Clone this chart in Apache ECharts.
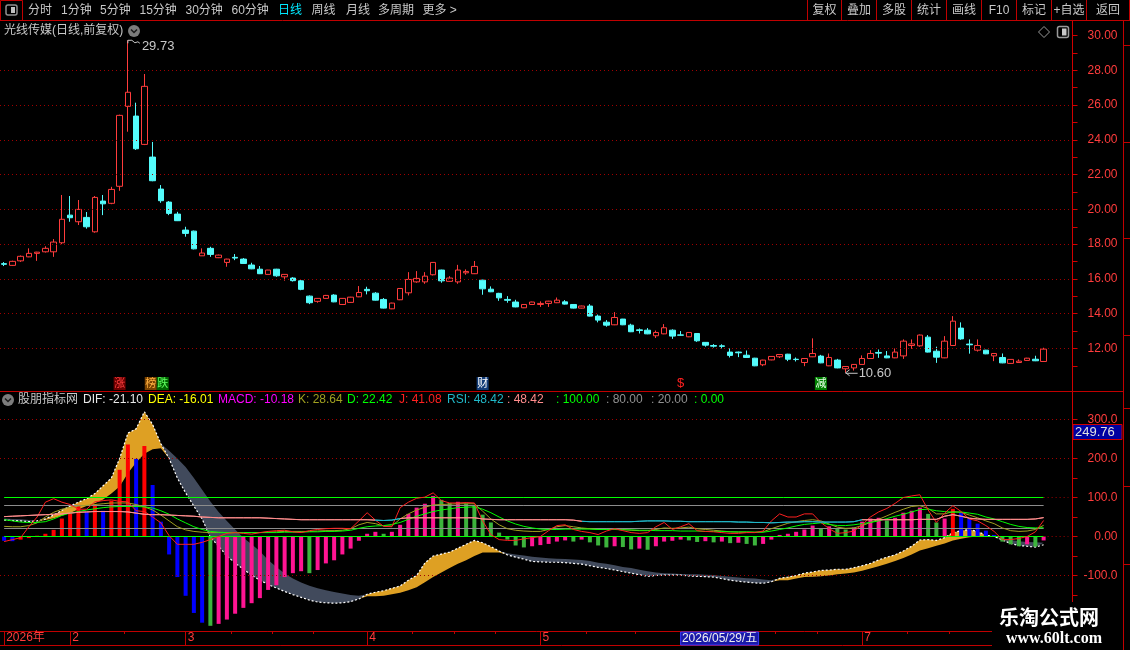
<!DOCTYPE html>
<html><head><meta charset="utf-8">
<script src="https://cdn.jsdelivr.net/npm/echarts@6/dist/echarts.min.js"></script>
<style>html,body{margin:0;padding:0;background:#000;overflow:hidden}#c{width:1130px;height:650px}</style>
</head><body><div id="c"></div>
<script>
// ---------- data ----------
const monthDays = [8,14,22,21,18,21,23];
const tickLabels = ['2026年','2','3','4','5','6','7'];
const weekIdx = [15,28,33,38,50,55,60,71,77,87,94,99,110,115];
// [open, close, low, high]
const ohlc = [
[16.88,16.84,16.74,16.97],[16.78,17.01,16.75,17.05],[17.04,17.30,16.98,17.35],[17.27,17.47,17.25,17.76],[17.47,17.54,17.04,17.56],
[17.56,17.76,17.52,17.88],[17.56,18.12,17.27,18.29],[18.08,19.43,18.00,20.83],[19.67,19.52,19.29,20.77],[19.29,20.00,19.10,20.54],
[19.54,19.00,18.89,19.85],[18.71,20.69,18.66,20.77],[20.48,20.32,19.67,20.83],[20.35,21.15,20.30,21.30],[21.33,25.41,21.07,25.45],
[25.93,26.74,24.47,29.73],[25.37,23.49,23.42,26.14],[23.74,27.08,23.70,27.79],[23.01,21.65,21.62,23.88],[21.17,20.50,20.38,21.40],
[20.42,19.77,19.67,20.48],[19.73,19.35,19.33,19.86],[18.81,18.62,18.43,19.00],[18.75,17.73,17.70,18.78],[17.33,17.49,17.33,17.76],
[17.76,17.41,17.27,17.85],[17.22,17.37,17.20,17.40],[16.95,17.14,16.70,17.16],[17.24,17.20,17.08,17.43],[17.14,16.89,16.87,17.20],
[16.80,16.58,16.56,16.93],[16.56,16.30,16.28,16.74],[16.26,16.51,16.25,16.52],[16.56,16.18,16.12,16.58],[16.12,16.26,15.90,16.28],
[16.05,15.90,15.85,16.10],[15.89,15.40,15.35,15.95],[15.01,14.63,14.55,15.05],[14.71,14.88,14.63,14.90],[14.88,15.05,14.86,15.08],
[15.07,14.68,14.66,15.12],[14.53,14.88,14.50,14.90],[14.65,14.95,14.63,14.97],[14.97,15.22,14.95,15.59],[15.40,15.32,15.11,15.55],
[15.18,14.78,14.76,15.24],[14.82,14.32,14.30,14.90],[14.28,14.61,14.26,14.63],[14.80,15.45,14.78,15.47],[15.20,15.97,15.05,16.39],
[15.83,16.03,15.78,16.45],[15.83,16.16,15.72,16.39],[16.24,16.95,16.20,16.97],[16.51,15.89,15.78,16.53],[15.86,16.05,15.84,16.16],
[15.83,16.51,15.72,16.81],[16.35,16.43,16.24,16.55],[16.30,16.72,16.28,17.03],[15.93,15.43,15.09,15.95],[15.41,15.26,15.24,15.57],
[15.17,14.91,14.74,15.20],[14.82,14.77,14.63,15.01],[14.67,14.39,14.37,14.80],[14.34,14.53,14.32,14.55],[14.53,14.67,14.50,14.69],
[14.53,14.59,14.39,14.71],[14.59,14.72,14.39,14.74],[14.63,14.78,14.61,14.93],[14.68,14.55,14.53,14.78],[14.53,14.32,14.30,14.55],
[14.32,14.44,14.30,14.46],[14.44,13.86,13.84,14.55],[13.86,13.63,13.50,13.95],[13.51,13.34,13.25,13.63],[13.36,13.78,13.34,14.09],
[13.69,13.36,13.34,13.70],[13.34,12.96,12.94,13.42],[13.07,13.03,12.86,13.15],[13.05,12.84,12.82,13.17],[12.73,12.92,12.60,13.03],
[12.84,13.19,12.82,13.40],[13.05,12.71,12.55,13.10],[12.78,12.76,12.74,13.00],[12.67,12.92,12.65,12.94],[12.86,12.44,12.38,12.88],
[12.35,12.19,12.10,12.37],[12.17,12.13,12.05,12.25],[12.15,12.12,12.00,12.24],[11.79,11.60,11.48,12.00],[11.79,11.75,11.50,11.82],
[11.61,11.48,11.45,11.88],[11.44,11.00,10.98,11.46],[11.06,11.33,10.98,11.35],[11.34,11.54,11.32,11.56],[11.52,11.65,11.45,11.67],
[11.67,11.38,11.27,11.69],[11.38,11.36,11.25,11.48],[11.19,11.42,10.98,11.44],[11.52,11.71,11.50,12.58],[11.56,11.17,11.15,11.63],
[11.00,11.48,10.98,11.71],[11.33,10.88,10.86,11.40],[10.83,10.96,10.60,10.98],[10.88,11.08,10.73,11.10],[11.08,11.42,11.06,11.60],
[11.42,11.71,11.40,11.90],[11.77,11.73,11.46,11.94],[11.57,11.46,11.44,11.85],[11.46,11.79,11.44,12.00],[11.57,12.42,11.40,12.52],
[12.17,12.26,11.98,12.52],[12.15,12.77,12.10,12.80],[12.65,11.79,11.77,12.77],[11.84,11.50,11.17,12.10],[11.46,12.42,11.44,12.71],
[12.17,13.57,12.15,13.86],[13.17,12.55,12.50,13.50],[12.25,12.21,11.70,12.52],[11.90,12.17,11.82,12.52],[11.90,11.69,11.67,11.92],
[11.57,11.71,11.27,11.73],[11.48,11.17,11.15,11.71],[11.14,11.37,11.12,11.38],[11.19,11.27,11.17,11.37],[11.31,11.44,11.29,11.46],
[11.38,11.29,11.27,11.58],[11.25,11.96,11.23,12.04]
];
const dif = [42,41,40,38,40,45,55,67,78,88,
 97,110,130,150,200,265,276,320,287,238,
 200,150,112,78,45,-2,-25,-50,-68,-84,
 -99,-112,-123,-132,-141,-149,-156,-163,-168,-170,
 -171,-170,-167,-160,-148,-143,-139,-133,-127,-112,
 -100,-68,-50,-45,-40,-30,-20,-10,-16,-26,
 -37,-47,-53,-58,-64,-65,-66,-66,-67,-69,
 -71,-75,-79,-82,-86,-90,-94,-98,-102,-100,
 -99,-99,-99,-101,-102,-103,-104,-108,-112,-115,
 -117,-119,-120,-116,-107,-104,-100,-94,-91,-87,
 -86,-84,-84,-80,-75,-69,-60,-53,-47,-37,
 -25,-9,-8,-10,-3,10,15,18,13,3,
 0.5,-9,-18,-23,-25,-27,-21.10];
const dea = [46,45,44,42,40,42,47,53,60,70,
 78,85,95,110,128,162,190,212,224,226,
 220,200,178,150,120,90,63,40,18,-3,
 -20,-38,-60,-78,-95,-108,-118,-126,-133,-138,
 -142,-146,-150,-152,-153,-153,-152,-148,-144,-138,
 -130,-117,-104,-92,-81,-70,-61,-50,-41,-41,
 -41,-43,-46,-49,-52,-54,-56,-57,-58,-59,
 -60,-63,-67,-70,-74,-78,-81,-85,-89,-92,
 -94,-95,-96,-97,-97,-98,-99,-101,-103,-105,
 -107,-108,-110,-112,-112,-112,-108,-104,-103,-102,
 -100,-97,-95,-92,-88,-82,-76,-70,-63,-55,
 -46,-36,-30,-24,-18,-10,-6,-2,0,0,
 -0.5,-5,-9,-12,-14,-15,-16.01];
const macd = [-11,-12,-8,-4,2,7,17,46,58,81,
 63,83,66,92,171,236,199,232,132,38,
 -46,-104,-152,-196,-221,-229,-224,-213,-198,-183,
 -171,-158,-137,-125,-104,-94,-89,-94,-86,-69,
 -61,-46,-31,-11,7,12,7,12,30,58,
 74,84,104,94,86,89,84,81,56,36,
 10,-8,-23,-28,-25,-22,-19,-13,-10,-13,
 -8,-15,-23,-28,-25,-27,-33,-31,-34,-25,
 -13,-11,-8,-10,-14,-12,-15,-13,-17,-16,
 -19,-23,-19,-8,4,7,12,18,28,20,
 26,20,18,23,38,46,48,41,48,61,
 66,74,58,36,46,71,61,46,33,15,
 4,-13,-20,-25,-20,-26,-10.18];
const kLine = [26,25,25,28,35,50,62,70,75,78,
 80,82,84,86,86,86,82,76,68,55,
 40,25,17,13,11,10,10,10,10,10,
 10,10,11,12,13,13,13,13,14,15,
 15,16,20,30,36,33,27,27,45,58,
 68,75,81,82,83,84,84,84,65,45,
 30,20,16,14,13,13,18,25,28,25,
 22,20,18,18,18,18,16,15,15,18,
 22,21,22,24,20,18,16,14,12,11,
 11,11,12,20,27,34,38,41,43,40,
 32,24,21,22,28,36,44,53,62,70,
 77,79,72,58,58,64,62,55,48,40,
 33,22,15,13,14,18,28.64];
const dLine = [43,40,37,36,36,38,45,54,60,64,
 68,71,74,76,77,77,77,76,73,66,
 57,45,35,25,18,13,11,10,10,10,
 10,10,10,10,11,11,11,12,12,13,
 13,14,16,21,25,27,28,31,36,44,
 52,58,64,68,71,74,75,76,70,61,
 50,40,32,26,22,19,18,18,19,19,
 19,19,18,18,18,17,17,16,16,15,
 15,15,14,14,14,13,13,13,12,12,
 12,11,11,14,18,22,27,31,33,35,
 31,28,28,30,33,36,40,46,52,57,
 63,69,70,66,64,62,63,60,57,50,
 45,38,31,26,23,22,22.42];
const jLine = [-13,-8,-3,25,50,88,97,88,82,70,
 70,89,92,94,90,89,66,64,50,35,
 2,-20,-20,-20,-15,-8,0,8,10,8,
 6,10,13,15,16,12,10,15,18,20,
 21,21,20,40,61,42,26,25,74,88,
 98,101,112,92,86,86,87,86,40,5,
 -8,-10,-10,-6,-3,0,15,28,30,18,
 13,10,5,14,20,15,10,8,10,25,
 36,18,25,33,15,13,12,10,8,8,
 10,10,14,40,58,50,50,58,58,36,
 20,8,10,14,30,50,63,72,85,100,
 104,107,68,36,60,79,64,45,40,28,
 13,-8,-8,-5,0,12,41.08];
const rsi = [51,52,53,54,55,56,57,58,60,62,
 63,64,64,64,64,63,60,57,56,56,
 55,54,53,52,50,49,48,48,48,48,
 48,48,47,46,45,44,43,43,43,43,
 43,43,43,43,43,42,41,42,46,48,
 48,48,48,48,48,48,48,48,45,44,
 43,43,43,43,43,43,43,43,43,42,
 39,38,38,38,38,38,38,39,40,40,
 40,39,39,38,38,38,38,38,38,37,
 37,36,36,35,36,37,37,38,38,37,
 37,37,37,38,43,43,43,43,43,43,
 43,44,44,44,52,56,52,47,45,44,
 44,44,44,44,44,45,48.42];
const priceLabels = [12,14,16,18,20,22,24,26,28,30];
const priceTicks = [11,12,13,14,15,16,17,18,19,20,21,22,23,24,25,26,27,28,29,30];
const priceGrid = [12,14,16,18,20,22,24,26,28];
const indLabels = [-100,0,100,200,300];
const indTicks = [-200,-150,-100,-50,0,50,100,150,200,250,300];
const refLines = [100,80,20,0];
const refColors = {100:'#00ff00', 80:'#8c8c8c', 20:'#8c8c8c', 0:'#00ff00'};
const events = [{i:14,t:'涨'},{i:18.5,t:'榜跌'},{i:58,t:'财'},{i:82,t:'$'},{i:99,t:'减'}];
const highIdx = 15, highVal = 29.73, lowIdx = 102, lowVal = 10.60;
const cursorIdx = 82, cursorDate = '2026/05/29/五', cursorVal = '249.76';

// ---------- derived ----------
const cats = [];
monthDays.forEach((n,m)=>{for(let d=0;d<n;d++)cats.push((m+1)+'-'+(d+1));});
const N = cats.length;
cats.push('p1','p2','p3');
const tickIdx = []; {let s=0; monthDays.forEach(n=>{tickIdx.push(s); s+=n;});}
const bandBase = dif.map((v,i)=>Math.min(v,dea[i]));
const bandUp = dif.map((v,i)=>Math.max(0,v-dea[i]));
const bandDn = dif.map((v,i)=>Math.max(0,dea[i]-v));

const F = '"Liberation Sans","Noto Sans CJK SC",sans-serif';
const RED = '#c00000';
const chart = echarts.init(document.getElementById('c'), null, {renderer:'canvas'});

const gridLine = {color:'#a00000', type:[1,3], width:1};
const indGridData = indLabels.map(v=> refLines.includes(v)
  ? [{coord:[cats[N-1],v]},{coord:[cats[cats.length-1],v]}]
  : {yAxis:v});
const option = {
  backgroundColor:'#000',
  animation:false,
  grid:[{left:0, width:1072.5, top:30, height:360},{left:0, width:1072.5, top:408, height:223}],
  xAxis:[
    {type:'category', gridIndex:0, data:cats, boundaryGap:true, axisLine:{show:false}, axisTick:{show:false}, axisLabel:{show:false}, splitLine:{show:false}},
    {type:'category', gridIndex:1, data:cats, boundaryGap:true, position:'bottom',
      axisLine:{show:true, onZero:false, lineStyle:{color:RED, width:1}},
      axisTick:{show:true, alignWithLabel:true, length:14, interval:(i)=>tickIdx.includes(i), lineStyle:{color:RED}},
      axisLabel:{show:true, interval:(i)=>tickIdx.includes(i), formatter:(v,i)=>tickLabels[tickIdx.indexOf(i)]||'',
        color:'#ff3c3c', fontSize:12, fontFamily:F, align:'left', margin:1, padding:[0,0,0,2]},
      splitLine:{show:false}},
    {type:'category', gridIndex:1, data:cats, boundaryGap:true, position:'bottom',
      axisLine:{show:false, onZero:false}, axisLabel:{show:false}, splitLine:{show:false},
      axisTick:{show:true, length:3, interval:(i)=>weekIdx.includes(i), lineStyle:{color:RED}}}
  ],
  yAxis:[
    {type:'value', gridIndex:0, position:'right', min:9.609, max:30.322,
      axisLine:{show:true, lineStyle:{color:'#d00000'}},
      axisTick:{show:true, length:5, customValues:priceTicks, lineStyle:{color:'#d00000'}},
      axisLabel:{show:true, customValues:priceLabels, formatter:v=>v.toFixed(2), color:'#ff3c3c', fontSize:12, fontFamily:F, align:'right', margin:45},
      splitLine:{show:false}},
    {type:'value', gridIndex:1, position:'right', min:-242.3, max:329.5,
      axisLine:{show:true, lineStyle:{color:'#d00000'}},
      axisTick:{show:true, length:5, customValues:indTicks, lineStyle:{color:'#d00000'}},
      axisLabel:{show:true, customValues:indLabels, formatter:v=>v===0?'0.00':v.toFixed(1), color:'#ff3c3c', fontSize:12, fontFamily:F, align:'right', margin:45},
      splitLine:{show:false}}
  ],
  visualMap:[{type:'piecewise', show:false, seriesIndex:9, dimension:0,
    pieces:[{gte:-1,lt:44.5,color:'#ff8c8c'},{gte:44.5,lt:47.5,color:'#20b8c8'},{gte:47.5,lt:69.5,color:'#ff8c8c'},{gte:69.5,lt:103.5,color:'#20b8c8'},{gte:103.5,lte:200,color:'#ff8c8c'}]}],
  series:[
    {type:'candlestick', xAxisIndex:0, yAxisIndex:0, data:ohlc, barWidth:6, z:3,
      itemStyle:{color:'#000', color0:'#54fcfc', borderColor:'#ff3c3c', borderColor0:'#54fcfc', borderWidth:1},
      markLine:{silent:true, symbol:['none','none'], label:{show:false}, lineStyle:gridLine, data:priceGrid.map(v=>({yAxis:v}))}},
    {type:'line', name:'base', xAxisIndex:1, yAxisIndex:1, data:bandBase, stack:'band', stackStrategy:'all', symbol:'none', lineStyle:{opacity:0}, z:1,
      markLine:{silent:true, symbol:['none','none'], label:{show:false}, lineStyle:gridLine, data:indGridData}},
    {type:'line', name:'up', xAxisIndex:1, yAxisIndex:1, data:bandUp, stack:'band', stackStrategy:'all', symbol:'none', lineStyle:{opacity:0}, areaStyle:{color:'#dea023', opacity:1}, z:1},
    {type:'line', name:'dn', xAxisIndex:1, yAxisIndex:1, data:bandDn, stack:'band', stackStrategy:'all', symbol:'none', lineStyle:{opacity:0}, areaStyle:{color:'#414a5c', opacity:1}, z:1},
    {type:'line', name:'DIF', xAxisIndex:1, yAxisIndex:1, data:dif, symbol:'none', lineStyle:{color:'#ffffff', width:1.2, type:[2,2]}, z:1},
    {type:'bar', name:'MACD', xAxisIndex:1, yAxisIndex:1, data:macd, barWidth:4, z:2,
      itemStyle:{color:p=>{const i=p.dataIndex;const prev=i>0?macd[i-1]:Infinity;const up=macd[i]>=prev;return dif[i]>0?(up?'#ff0000':'#0000ff'):(up?'#ff1493':'#3cb43c');}}},
    {type:'line', name:'K', xAxisIndex:1, yAxisIndex:1, data:kLine, symbol:'none', lineStyle:{color:'#a0a020', width:1}, z:4},
    {type:'line', name:'D', xAxisIndex:1, yAxisIndex:1, data:dLine, symbol:'none', lineStyle:{color:'#00ff00', width:1}, z:4},
    {type:'line', name:'J', xAxisIndex:1, yAxisIndex:1, data:jLine, symbol:'none', lineStyle:{color:'#ff2020', width:1}, z:4},
    {type:'line', name:'RSI', xAxisIndex:1, yAxisIndex:1, data:rsi, symbol:'none', lineStyle:{width:1}, z:4}
  ]
};
chart.setOption(option);

// ---------- chrome (texts, frames) ----------
function T(x,y,text,fill,size,align,extra){
  return Object.assign({type:'text', x:x, y:y, z:50, silent:true,
    style:{text:text, fill:fill, font:(size||12)+'px '+F, textAlign:align||'left', textVerticalAlign:'middle', align:align||'left', verticalAlign:'middle'}}, extra||{});
}
function L(x1,y1,x2,y2,c,z){return {type:'line', z:z||50, silent:true, shape:{x1:x1,y1:y1,x2:x2,y2:y2}, style:{stroke:c||RED, lineWidth:1}};}
function R(x,y,w,h,fill,stroke,z){return {type:'rect', z:z||50, silent:true, shape:{x:x,y:y,width:w,height:h}, style:{fill:fill||'none', stroke:stroke||null, lineWidth:1}};}
function chevron(cx,cy){return [{type:'circle', z:50, shape:{cx:cx,cy:cy,r:6}, style:{fill:'#7c7c7c'}},
  {type:'polyline', z:51, shape:{points:[[cx-3,cy-1.5],[cx,cy+1.5],[cx+3,cy-1.5]]}, style:{stroke:'#1a1a1a', lineWidth:1.5, fill:'none'}}];}
const G = [];
const TXT = '#c8c8c8';
// toolbar
G.push(R(0.5,0.5,22,20,'none',RED));
G.push({type:'rect', z:50, shape:{x:6,y:5,width:11,height:10,r:2}, style:{fill:'none', stroke:'#909090', lineWidth:1.5}});
G.push(R(11,7,4,6,'#c0c0c0'));
[['分时',28],['1分钟',61],['5分钟',100],['15分钟',139.5],['30分钟',185.5],['60分钟',231.5],['日线',278],['周线',311.5],['月线',346],['多周期',378],['更多 >',422.5]]
  .forEach(([t,x])=>G.push(T(x,10.5,t,t==='日线'?'#00e8ff':TXT,12)));
const seps=[807,841,876,911,946,981,1016,1051,1086,1129];
seps.forEach(x=>G.push(L(x+0.5,0,x+0.5,20.5)));
['复权','叠加','多股','统计','画线','F10','标记','+自选','返回'].forEach((t,k)=>G.push(T((seps[k]+seps[k+1])/2+0.5,10.5,t,TXT,12,'center')));
G.push(L(0,20.5,1130,20.5));
// title
G.push(T(4,31,'光线传媒(日线,前复权)',TXT,12));
chevron(134,31).forEach(e=>G.push(e));
G.push({type:'polygon', z:50, shape:{points:[[1044,26.5],[1049.5,32],[1044,37.5],[1038.5,32]]}, style:{fill:'none', stroke:'#9a9a9a', lineWidth:1}});
G.push({type:'rect', z:50, shape:{x:1057.5,y:26.5,width:11,height:11,r:2}, style:{fill:'none', stroke:'#9a9a9a', lineWidth:1.5}});
G.push(R(1062,28.5,4.5,7,'#c8c8c8'));
// frame lines
G.push(L(1072.5,20.5,1072.5,631.5,'#d00000',49));
G.push(L(1123.5,20.5,1123.5,650,RED));
G.push(L(0,391.5,1123.5,391.5));
G.push(L(0,645.5,1123.5,645.5));
[45.5,142.5,238.5,335.5,408.5,486.5,564.5].forEach(y=>G.push(L(1123.5,y,1130,y)));
// reference lines of the indicator (placed through the indicator scale)
const toPx1 = (i,v)=>chart.convertToPixel({gridIndex:1},[i,v]);
refLines.forEach(v=>{
  const a = toPx1(0,v), b = toPx1(N-1,v);
  const y = Math.round(a[1]-0.5)+0.5;
  G.push(L(a[0],y,b[0],y,refColors[v],3));
});
// indicator header
chevron(8,400).forEach(e=>G.push(e));
G.push(T(18,400,'股朋指标网',TXT,12));
const last = a=>a[a.length-1].toFixed(2);
[[83,'DIF: '+last(dif),'#e8e8e8'],[148,'DEA: '+last(dea),'#ffff00'],[218,'MACD: '+last(macd),'#ff00ff'],
 [298,'K: '+last(kLine),'#a0a020'],[347,'D: '+last(dLine),'#00ff00'],[399,'J: '+last(jLine),'#ff2020'],
 [447,'RSI: '+last(rsi),'#20b8c8'],[507,': '+last(rsi),'#ff8c8c'],[556,': '+refLines[0].toFixed(2),'#00ff00'],
 [606,': '+refLines[1].toFixed(2),'#909090'],[651,': '+refLines[2].toFixed(2),'#909090'],[694,': '+refLines[3].toFixed(2),'#00ff00']]
 .forEach(([x,t,c])=>G.push(T(x,400,t,c,12)));
// cursor value box
G.push(R(1073,424.5,49,15,'#0000a0','#d00000',55));
G.push(T(1075,432,cursorVal,'#e0e0e0',13,'left',{z:56}));
// data-anchored annotations
const toPx = (i,v)=>chart.convertToPixel({gridIndex:0},[i,v]);
const hp = toPx(highIdx, highVal);
G.push({type:'polyline', z:50, shape:{points:[[hp[0],hp[1]+3],[hp[0],hp[1]],[hp[0]+4,hp[1]],[hp[0]+7,hp[1]+2.5],[hp[0]+10,hp[1]+1.5],[hp[0]+12,hp[1]+3]]}, style:{stroke:'#c8c8c8', lineWidth:1, fill:'none'}});
G.push(T(hp[0]+14,hp[1]+6,highVal.toFixed(2),'#c8c8c8',13));
const lp = toPx(lowIdx, lowVal);
G.push({type:'polyline', z:50, shape:{points:[[lp[0]+4,lp[1]-3],[lp[0],lp[1]],[lp[0]+4,lp[1]+3]]}, style:{stroke:'#c8c8c8', lineWidth:1, fill:'none'}});
G.push(L(lp[0],lp[1]+0.5,lp[0]+12,lp[1]+0.5,'#c8c8c8'));
G.push(T(lp[0]+13,lp[1]+1,lowVal.toFixed(2),'#c8c8c8',13));
const evStyle = {'涨':['#6a0000','#ff4040'],'榜':['#7a4200','#ffb040'],'跌':['#006400','#60ff60'],'财':['#123c78','#ffffff'],'$':[null,'#ff2020'],'减':['#008000','#e8ffe8']};
events.forEach(ev=>{
  const x0 = ev.i%1 ? (toPx(Math.floor(ev.i),10)[0]+toPx(Math.ceil(ev.i),10)[0])/2 : toPx(ev.i,10)[0];
  const chars = ev.t.split('');
  chars.forEach((ch,k)=>{
    const cx = x0 + (k - (chars.length-1)/2)*12;
    const st = evStyle[ch];
    if(st[0]) G.push(R(cx-6,377,12,13,st[0],null,50));
    G.push(T(cx,383.5,ch,st[1],ch==='$'?13:11,'center',{z:51}));
  });
});
const dx = toPx1(cursorIdx,0)[0];
G.push(R(dx,632,78,13,'#1a1aa8','#3a3aff',55));
G.push(T(dx+39,638.5,cursorDate,'#f0f0f0',12,'center',{z:56}));
// watermark
G.push(R(992,602,131,48,'#000',null,60));
G.push({type:'text', z:61, x:999, y:617, style:{text:'乐淘公式网', fill:'#ffffff', font:'bold 20px "Noto Sans CJK SC"', textVerticalAlign:'middle', verticalAlign:'middle'}});
G.push({type:'text', z:61, x:1006, y:639, style:{text:'www.60lt.com', fill:'#ffffff', font:'bold 16px "Liberation Serif",serif', textVerticalAlign:'middle', verticalAlign:'middle'}});
chart.setOption({graphic:{elements:G}});
</script></body></html>
